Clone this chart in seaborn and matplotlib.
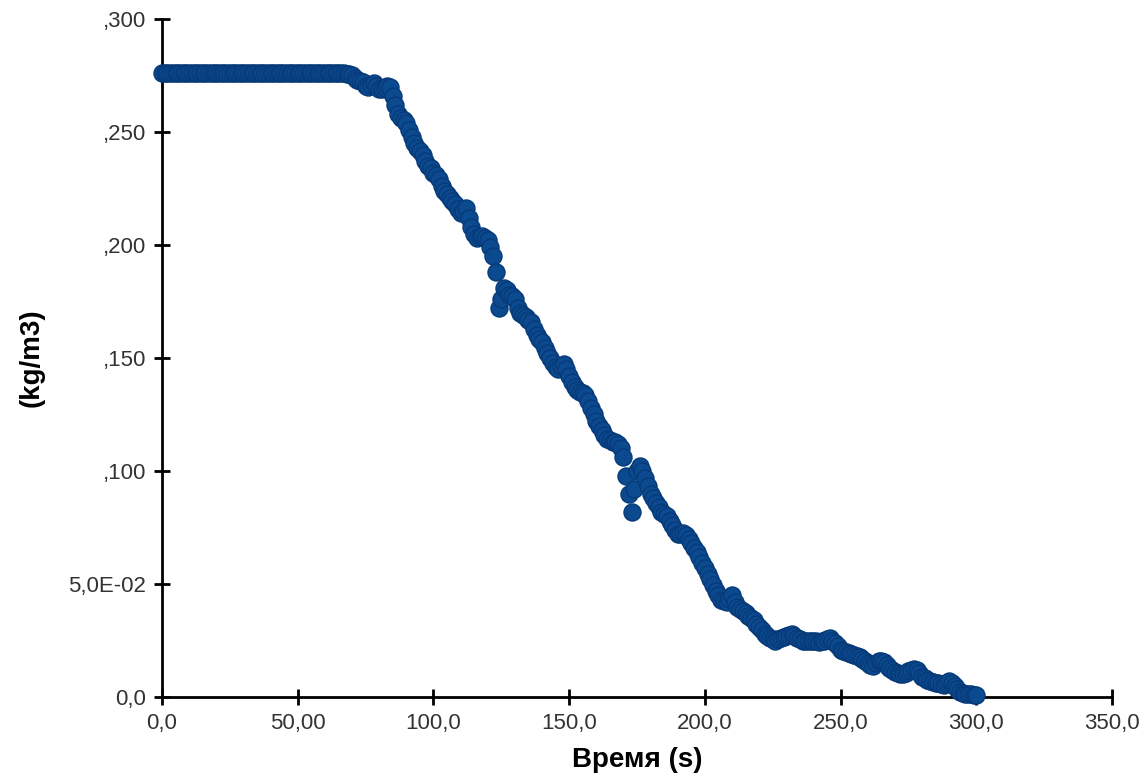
import matplotlib
matplotlib.use("Agg")
import matplotlib.pyplot as plt
import seaborn as sns
import pandas as pd

# density curve, one reading per second
# (time in s, density in kg/m3)
time_s = [
    0, 1, 2, 3, 4, 5, 6, 7, 8, 9, 10, 11, 12, 13, 14, 15, 16, 17, 18, 19,
    20, 21, 22, 23, 24, 25, 26, 27, 28, 29, 30, 31, 32, 33, 34, 35, 36, 37, 38, 39,
    40, 41, 42, 43, 44, 45, 46, 47, 48, 49, 50, 51, 52, 53, 54, 55, 56, 57, 58, 59,
    60, 61, 62, 63, 64, 65, 66, 67, 68, 69, 70, 71, 72, 73, 74, 75, 76, 77, 78, 79,
    80, 81, 82, 83, 84, 85, 86, 87, 88, 89, 90, 91, 92, 93, 94, 95, 96, 97, 98, 99,
    100, 101, 102, 103, 104, 105, 106, 107, 108, 109, 110, 111, 112, 113, 114, 115, 116, 117, 118, 119,
    120, 121, 122, 123, 124, 125, 126, 127, 128, 129, 130, 131, 132, 133, 134, 135, 136, 137, 138, 139,
    140, 141, 142, 143, 144, 145, 146, 147, 148, 149, 150, 151, 152, 153, 154, 155, 156, 157, 158, 159,
    160, 161, 162, 163, 164, 165, 166, 167, 168, 169, 170, 171, 172, 173, 174, 175, 176, 177, 178, 179,
    180, 181, 182, 183, 184, 185, 186, 187, 188, 189, 190, 191, 192, 193, 194, 195, 196, 197, 198, 199,
    200, 201, 202, 203, 204, 205, 206, 207, 208, 209, 210, 211, 212, 213, 214, 215, 216, 217, 218, 219,
    220, 221, 222, 223, 224, 225, 226, 227, 228, 229, 230, 231, 232, 233, 234, 235, 236, 237, 238, 239,
    240, 241, 242, 243, 244, 245, 246, 247, 248, 249, 250, 251, 252, 253, 254, 255, 256, 257, 258, 259,
    260, 261, 262, 263, 264, 265, 266, 267, 268, 269, 270, 271, 272, 273, 274, 275, 276, 277, 278, 279,
    280, 281, 282, 283, 284, 285, 286, 287, 288, 289, 290, 291, 292, 293, 294, 295, 296, 297, 298, 299,
    300]
density = [
    # 0-19 s
    0.276, 0.276, 0.276, 0.276, 0.276, 0.276, 0.276, 0.276, 0.276, 0.276,
    0.276, 0.276, 0.276, 0.276, 0.276, 0.276, 0.276, 0.276, 0.276, 0.276,
    # 20-39 s
    0.276, 0.276, 0.276, 0.276, 0.276, 0.276, 0.276, 0.276, 0.276, 0.276,
    0.276, 0.276, 0.276, 0.276, 0.276, 0.276, 0.276, 0.276, 0.276, 0.276,
    # 40-59 s
    0.276, 0.276, 0.276, 0.276, 0.276, 0.276, 0.276, 0.276, 0.276, 0.276,
    0.276, 0.276, 0.276, 0.276, 0.276, 0.276, 0.276, 0.276, 0.276, 0.276,
    # 60-79 s
    0.276, 0.276, 0.276, 0.276, 0.276, 0.276, 0.276, 0.276, 0.2758, 0.2755,
    0.2750, 0.2740, 0.2730, 0.2725, 0.2720, 0.2705, 0.2700, 0.2710, 0.2718, 0.2705,
    # 80-99 s
    0.2690, 0.2688, 0.2695, 0.2702, 0.2698, 0.2660, 0.2620, 0.2580, 0.2560, 0.2555,
    0.2540, 0.2510, 0.2480, 0.2450, 0.2430, 0.2415, 0.2400, 0.2370, 0.2350, 0.2340,
    # 100-119 s
    0.2320, 0.2310, 0.2290, 0.2260, 0.2240, 0.2225, 0.2210, 0.2195, 0.2180, 0.2160,
    0.2140, 0.2150, 0.2165, 0.2120, 0.2080, 0.2050, 0.2030, 0.2035, 0.2040, 0.2030,
    # 120-139 s
    0.2020, 0.1990, 0.1950, 0.1880, 0.1720, 0.1760, 0.1810, 0.1800, 0.1780, 0.1775,
    0.1760, 0.1720, 0.1700, 0.1690, 0.1680, 0.1670, 0.1660, 0.1630, 0.1600, 0.1585,
    # 140-159 s
    0.1570, 0.1545, 0.1520, 0.1500, 0.1480, 0.1460, 0.1450, 0.1465, 0.1475, 0.1450,
    0.1420, 0.1395, 0.1370, 0.1360, 0.1350, 0.1345, 0.1335, 0.1310, 0.1280, 0.1250,
    # 160-179 s
    0.1220, 0.1200, 0.1180, 0.1160, 0.1140, 0.1135, 0.1130, 0.1128, 0.1120, 0.1100,
    0.1060, 0.0980, 0.0900, 0.0820, 0.0920, 0.1000, 0.1020, 0.1000, 0.0970, 0.0935,
    # 180-199 s
    0.0900, 0.0880, 0.0860, 0.0840, 0.0820, 0.0810, 0.0800, 0.0780, 0.0760, 0.0740,
    0.0720, 0.0722, 0.0725, 0.0715, 0.0700, 0.0680, 0.0660, 0.0640, 0.0620, 0.0595,
    # 200-219 s
    0.0570, 0.0545, 0.0520, 0.0495, 0.0470, 0.0450, 0.0430, 0.0425, 0.0420, 0.0435,
    0.0450, 0.0420, 0.0400, 0.0390, 0.0380, 0.0370, 0.0360, 0.0350, 0.0340, 0.0325,
    # 220-239 s
    0.0310, 0.0295, 0.0280, 0.0270, 0.0260, 0.0255, 0.0250, 0.0255, 0.0260, 0.0265,
    0.0270, 0.0275, 0.0280, 0.0270, 0.0260, 0.0255, 0.0250, 0.0250, 0.0250, 0.0250,
    # 240-259 s
    0.0250, 0.0248, 0.0245, 0.0248, 0.0250, 0.0255, 0.0260, 0.0250, 0.0240, 0.0225,
    0.0210, 0.0205, 0.0200, 0.0195, 0.0190, 0.0185, 0.0180, 0.0175, 0.0170, 0.0160,
    # 260-279 s
    0.0150, 0.0140, 0.0135, 0.0150, 0.0160, 0.0158, 0.0155, 0.0140, 0.0130, 0.0120,
    0.0110, 0.0105, 0.0100, 0.0102, 0.0105, 0.0115, 0.0120, 0.0122, 0.0120, 0.0105,
    # 280-300 s
    0.0090, 0.0082, 0.0075, 0.0070, 0.0065, 0.0062, 0.0060, 0.0058, 0.0055, 0.0062,
    0.0070, 0.0060, 0.0050, 0.0035, 0.0020, 0.0018, 0.0015, 0.0015, 0.0015, 0.0010,
    0.0008]

x_ticks = [0, 50, 100, 150, 200, 250, 300, 350]
x_labels = ["0,0", "50,00", "100,0", "150,0", "200,0", "250,0", "300,0", "350,0"]
y_ticks = [0.0, 0.05, 0.10, 0.15, 0.20, 0.25, 0.30]
y_labels = ["0,0", "5,0E-02", ",100", ",150", ",200", ",250", ",300"]

df = pd.DataFrame({"t": time_s, "rho": density})

sns.set_theme(style="white")
plt.rcParams['font.family'] = ['Liberation Sans', 'DejaVu Sans']

fig = plt.figure(figsize=(11.47, 7.78), dpi=100)
ax = fig.add_axes([0.1412, 0.1041, 0.8283, 0.8715])

sns.scatterplot(data=df, x="t", y="rho", ax=ax, s=150, color="#0b4a8f",
                edgecolor="#073a78", linewidth=1.0, clip_on=False, zorder=3)

ax.set_xlim(0, 350)
ax.set_ylim(0, 0.3)
ax.set_xticks(x_ticks)
ax.set_xticklabels(x_labels)
ax.set_yticks(y_ticks)
ax.set_yticklabels(y_labels)

for side in ["top", "right"]:
    ax.spines[side].set_visible(False)
for side in ["left", "bottom"]:
    ax.spines[side].set_color("black")
    ax.spines[side].set_linewidth(2)

ax.tick_params(axis="both", which="major", bottom=True, left=True,
               direction="inout", length=11, width=2, color="black",
               labelsize=16, labelcolor="#333333", pad=6)

ax.set_xlabel("Время (s)", fontsize=20, fontweight="bold", color="black")
ax.set_ylabel("(kg/m3)", fontsize=20, fontweight="bold", color="black")
ax.xaxis.set_label_coords(0.5, -0.074)
ax.yaxis.set_label_coords(-0.124, 0.5)

fig.savefig("out.png", dpi=100)
